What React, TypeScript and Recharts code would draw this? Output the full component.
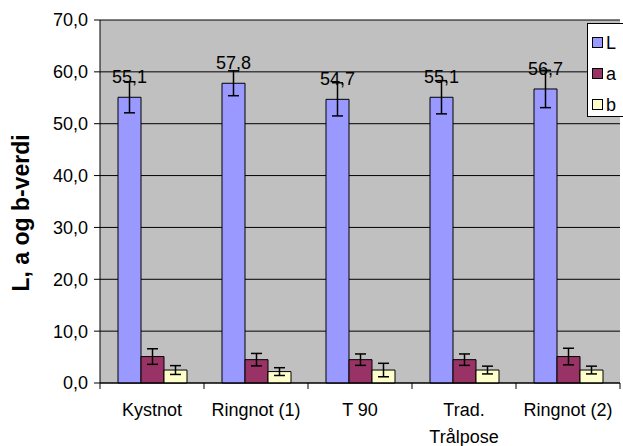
import { BarChart, Bar, XAxis, YAxis, CartesianGrid, ErrorBar, LabelList } from 'recharts';

const categories = ['Kystnot', 'Ringnot (1)', 'T 90', 'Trad. Trålpose', 'Ringnot (2)'];
const lValues = [55.1, 57.8, 54.7, 55.1, 56.7];
const lErrors = [3.0, 2.4, 3.2, 3.2, 3.6];
const aValues = [5.1, 4.5, 4.5, 4.5, 5.1];
const aErrors = [1.5, 1.2, 1.1, 1.1, 1.6];
const bValues = [2.5, 2.2, 2.5, 2.5, 2.5];
const bErrors = [0.85, 0.75, 1.3, 0.75, 0.75];
const yTicks = [0, 10, 20, 30, 40, 50, 60, 70];

const FONT = "Arial, 'Liberation Sans', sans-serif";
const W = 623;
const H = 446;
const PLOT_LEFT = 100;
const PLOT_RIGHT = 620;
const BAND = (PLOT_RIGHT - PLOT_LEFT) / categories.length;

const data = categories.map((name, i) => ({
    name,
    L: lValues[i],
    Lerr: lErrors[i],
    a: aValues[i],
    aerr: aErrors[i],
    b: bValues[i],
    berr: bErrors[i],
}));

const series = [
    { key: 'L', color: '#9999FF' },
    { key: 'a', color: '#993366' },
    { key: 'b', color: '#FFFFCC' },
];

const fmt = (v: number) => v.toFixed(1).replace('.', ',');

// long labels wrap onto two lines like the original
const splitLabel = (s: string) => {
    if (s.length <= 12) return [s];
    const i = s.indexOf(' ');
    return [s.slice(0, i), s.slice(i + 1)];
};

function CategoryTick(props: any) {
    const { x, y, payload, index } = props;
    const axisY = y - 20;
    const lines = splitLabel(String(payload.value));
    return (
        <g>
            <line x1={x - BAND / 2} x2={x - BAND / 2} y1={axisY} y2={axisY + 6} stroke="#000" />
            {index === categories.length - 1 && (
                <line x1={x + BAND / 2} x2={x + BAND / 2} y1={axisY} y2={axisY + 6} stroke="#000" />
            )}
            <text x={x} y={y + 13} textAnchor="middle" style={{ fontSize: 18, fontFamily: FONT, fill: '#000' }}>
                {lines.map((t, i) => (
                    <tspan key={i} x={x} dy={i === 0 ? 0 : 27}>
                        {t}
                    </tspan>
                ))}
            </text>
        </g>
    );
}

function YLabel() {
    return (
        <text
            x={21}
            y={213}
            transform="rotate(-90, 21, 213)"
            textAnchor="middle"
            dominantBaseline="central"
            style={{ fontSize: 23, fontWeight: 700, fontFamily: FONT, fill: '#000' }}
        >
            L, a og b-verdi
        </text>
    );
}

function LegendBox() {
    return (
        <div
            style={{
                position: 'absolute',
                left: 587,
                top: 23,
                border: '1px solid #000',
                borderRight: 'none',
                background: '#fff',
                width: 36,
                height: 94,
                boxSizing: 'border-box',
                fontFamily: FONT,
                fontSize: 18,
                paddingTop: 3,
            }}
        >
            {series.map((s) => (
                <div key={s.key} style={{ display: 'flex', alignItems: 'center', height: 31, paddingLeft: 4 }}>
                    <span
                        style={{
                            display: 'inline-block',
                            width: 9,
                            height: 9,
                            background: s.color,
                            border: '1px solid #000',
                            marginRight: 3,
                        }}
                    />
                    <span style={{ color: '#000', lineHeight: '18px' }}>{s.key}</span>
                </div>
            ))}
        </div>
    );
}

export default function App() {
    return (
        <div style={{ position: 'absolute', left: 0, top: 0, width: W, height: H, overflow: 'hidden', background: '#fff' }}>
            <BarChart
                width={W}
                height={H}
                data={data}
                margin={{ top: 20, right: W - PLOT_RIGHT, bottom: 0, left: 0 }}
                barGap={0}
                barSize={23}
            >
                <CartesianGrid fill="#C0C0C0" stroke="#000" vertical={false} />
                <XAxis
                    dataKey="name"
                    height={63}
                    interval={0}
                    axisLine={{ stroke: '#000' }}
                    tickLine={false}
                    tickSize={6}
                    tickMargin={14}
                    tick={<CategoryTick />}
                />
                <YAxis
                    width={PLOT_LEFT}
                    domain={[0, 70]}
                    ticks={yTicks}
                    interval={0}
                    tickFormatter={fmt}
                    axisLine={{ stroke: '#000' }}
                    tickLine={{ stroke: '#000' }}
                    tickSize={6}
                    tickMargin={6}
                    tick={{ fontSize: 18, fontFamily: FONT, fill: '#000' }}
                    label={<YLabel />}
                />
                <Bar dataKey="L" fill="#9999FF" stroke="#000" strokeWidth={1} isAnimationActive={false}>
                    <ErrorBar dataKey="Lerr" direction="y" width={5.5} stroke="#000" strokeWidth={1.5} />
                    <LabelList
                        dataKey="L"
                        position="top"
                        offset={14}
                        formatter={((v: unknown) => fmt(Number(v))) as never}
                        style={{ fontSize: 18, fontFamily: FONT, fill: '#000' }}
                    />
                </Bar>
                <Bar dataKey="a" fill="#993366" stroke="#000" strokeWidth={1} isAnimationActive={false}>
                    <ErrorBar dataKey="aerr" direction="y" width={5.5} stroke="#000" strokeWidth={1.5} />
                </Bar>
                <Bar dataKey="b" fill="#FFFFCC" stroke="#000" strokeWidth={1} isAnimationActive={false}>
                    <ErrorBar dataKey="berr" direction="y" width={5.5} stroke="#000" strokeWidth={1.5} />
                </Bar>
            </BarChart>
            <LegendBox />
        </div>
    );
}
